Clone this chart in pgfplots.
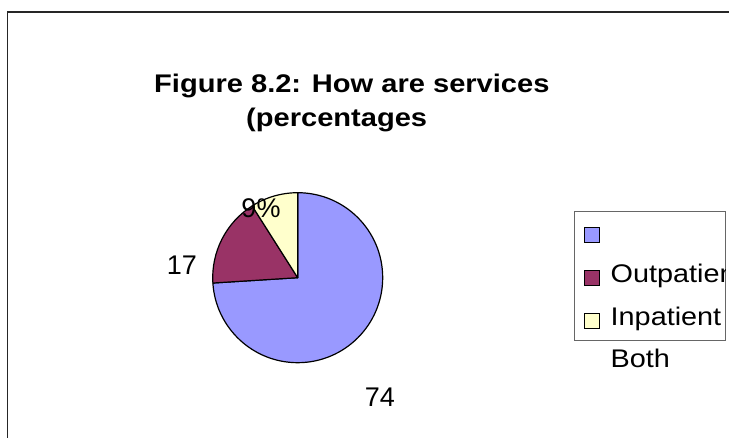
\documentclass[border=0pt]{standalone}
\usepackage{pgfplots}
\pgfplotsset{compat=1.18}
\usepackage{pgfplotstable}
\usepackage{graphicx}
\usepackage{fontspec}
\setmainfont{Liberation Sans}
\definecolor{pieblue}{HTML}{9999FF}
\definecolor{piered}{HTML}{993366}
\definecolor{pieyellow}{HTML}{FFFFCC}

\pgfplotstableread{
idx value color
0 74 pieblue
1 17 piered
2 9 pieyellow
}\piedata

\newcommand\ttltext[1]{\scalebox{1.14}[1]{\fontsize{25.5}{30}\selectfont\bfseries #1}}
\newcommand\legtext[1]{\scalebox{1.13}[1]{\fontsize{25.5}{30}\selectfont #1}}
\newcommand\labtext[1]{{\fontsize{27}{32}\selectfont #1}}

\begin{document}
\begin{tikzpicture}
\clip (0,0) rectangle (729pt,-438pt);
\fill[white] (0,0) rectangle (729pt,-438pt);
% cumulative angles, clockwise from 12 o'clock
\xdef\cum{90}
\foreach \i in {0,1,2}{
  \pgfplotstablegetelem{\i}{value}\of\piedata
  \pgfmathsetmacro\b{\cum-3.6*\pgfplotsretval}
  \expandafter\xdef\csname sa\i\endcsname{\cum}
  \expandafter\xdef\csname ea\i\endcsname{\b}
  \pgfplotstablegetelem{\i}{color}\of\piedata
  \expandafter\xdef\csname col\i\endcsname{\pgfplotsretval}
  \xdef\cum{\b}
}
% outer border
\draw[line width=1.8pt, black!85] (7.5pt,-12pt) rectangle (760pt,-470pt);

\begin{axis}[at={(297.7pt,-277.7pt)}, anchor=center, scale only axis,
  width=170pt, height=170pt, xmin=-1, xmax=1, ymin=-1, ymax=1,
  hide axis, clip=false]
\pgfplotsinvokeforeach{0,1,2}{
  \edef\temp{\noexpand\filldraw[fill=\csname col#1\endcsname, draw=black, line width=1.2pt, line join=round]
    (axis cs:0,0) -- (axis cs:{cos(\csname sa#1\endcsname)},{sin(\csname sa#1\endcsname)})
    arc[start angle=\csname sa#1\endcsname, end angle=\csname ea#1\endcsname, radius=85pt] -- cycle;}
  \temp
}
\end{axis}

% data labels
\node[inner sep=0pt] at (380pt,-397.5pt) {\labtext{74}};
\node[inner sep=0pt] at (182pt,-265pt) {\labtext{17}};
\node[inner sep=0pt] at (261pt,-208pt) {\labtext{9\%}};

% title
\node[inner sep=0pt, anchor=base west] at (154pt,-93pt) {\ttltext{Figure 8.2: How are services}};
\node[inner sep=0pt, anchor=base west] at (246pt,-126.5pt) {\ttltext{(percentages}};

% legend
\draw[line width=1pt, black!60] (574pt,-211.7pt) rectangle (725.7pt,-340.7pt);
\draw[line width=1pt, fill=pieblue] (584pt,-227.5pt) rectangle (599.5pt,-243pt);
\draw[line width=1pt, fill=piered] (584pt,-270.5pt) rectangle (599.5pt,-286pt);
\draw[line width=1pt, fill=pieyellow] (584pt,-313.5pt) rectangle (599.5pt,-329pt);
\begin{scope}
\clip (574pt,-200pt) rectangle (725pt,-345pt);
\node[inner sep=0pt, anchor=base west] at (610.5pt,-282.3pt) {\legtext{Outpatient}};
\end{scope}
\node[inner sep=0pt, anchor=base west] at (610.5pt,-325.5pt) {\legtext{Inpatient}};
\node[inner sep=0pt, anchor=base west] at (610.5pt,-367.3pt) {\legtext{Both}};
\end{tikzpicture}
\end{document}
